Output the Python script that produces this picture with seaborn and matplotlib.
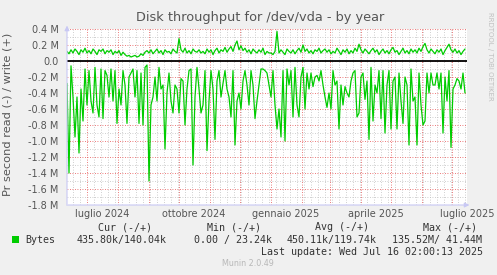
import pandas as pd
import numpy as np
import matplotlib
matplotlib.use('Agg')
import matplotlib.pyplot as plt
import matplotlib.dates as mdates
import matplotlib.ticker as mticker
from matplotlib.patches import Rectangle
import seaborn as sns

# Son güncelleme ve grafik aralığı (400 gün)
last_update = pd.Timestamp('2025-07-16 02:00:13')
range_start = last_update - pd.Timedelta(days=400)

# Okuma (-) değerleri, milyon byte/s, 2 günde bir
read_m = [
    -0.28, -1.40, -0.06, -0.45, -0.95, -0.45, -1.15, -0.35, -0.75, -0.10,
    -0.55, -0.12, -0.50, -0.65, -0.08, -0.55, -0.70, -0.10, -0.72, -0.12,
    -0.18, -0.45, -0.10, -0.50, -0.12, -0.78, -0.35, -0.55, -0.12, -0.30,
    -0.78, -0.20, -0.15, -0.10,
    -0.45, -0.12, -0.78, -0.15, -0.80, -0.08, -0.05, -1.50, -0.55, -0.45,
    -0.20, -0.50, -0.08, -0.35, -0.30, -1.10, -0.40, -0.15, -0.50, -0.65,
    -0.30, -0.35, -0.65, -0.22, -0.25, -0.80, -0.35, -0.12, -0.10, -1.30,
    -0.45, -0.08, -0.35, -0.65,
    -0.55, -0.12, -1.12, -0.50, -0.12, -0.35, -0.98, -0.25, -0.12, -0.45,
    -0.28, -0.12, -0.35, -0.45, -0.70, -0.12, -1.05, -0.50, -0.40, -0.60,
    -0.25, -0.12, -0.30, -0.55, -0.12, -0.30, -0.72, -0.50, -0.30, -0.10,
    -0.10, -0.12, -0.15, -0.30,
    -0.45, -0.12, -0.55, -0.85, -0.60, -0.95, -0.12, -1.00, -0.10, -0.30,
    -0.12, -0.70, -0.08, -0.55, -0.70, -0.20, -0.08, -0.60, -0.15, -0.35,
    -0.15, -0.32, -0.20, -0.18, -0.25, -0.12, -0.30, -0.45, -0.58, -0.40,
    -0.60, -0.12, -0.30, -0.25,
    -0.85, -0.30, -0.55, -0.32, -0.40, -0.45, -0.25, -0.15, -0.12, -0.70,
    -0.65, -0.20, -0.15, -0.48, -0.25, -0.98, -0.08, -0.75, -0.30, -0.40,
    -0.12, -0.72, -0.12, -0.90, -0.30, -0.12, -0.85, -0.25, -0.20, -0.85,
    -0.15, -0.50, -0.78, -0.20,
    -0.30, -1.05, -0.10, -0.50, -0.45, -1.05, -0.15, -0.55, -0.80, -0.75,
    -0.15, -0.40, -0.15, -0.30, -0.30, -0.15, -0.35, -0.15, -0.90, -0.20,
    -0.50, -0.12, -1.08, -0.35, -0.30, -0.22, -0.25, -0.35, -0.15, -0.40,
]

# Yazma (+) değerleri, milyon byte/s
write_m = [
    0.12, 0.09, 0.14, 0.10, 0.15, 0.12, 0.08, 0.14, 0.11, 0.16,
    0.10, 0.13, 0.09, 0.15, 0.12, 0.08, 0.14, 0.12, 0.15, 0.09,
    0.13, 0.11, 0.14, 0.08, 0.12, 0.10, 0.13, 0.07, 0.11, 0.08,
    0.06, 0.07, 0.05, 0.06,
    0.07, 0.05, 0.06, 0.09, 0.07, 0.11, 0.13, 0.10, 0.14, 0.09,
    0.12, 0.15, 0.10, 0.13, 0.08, 0.14, 0.11, 0.12, 0.09, 0.15,
    0.12, 0.10, 0.28, 0.14, 0.11, 0.16, 0.10, 0.13, 0.09, 0.15,
    0.12, 0.11, 0.14, 0.10,
    0.12, 0.09, 0.15, 0.11, 0.14, 0.08, 0.13, 0.16, 0.10, 0.14,
    0.12, 0.17, 0.11, 0.15, 0.18, 0.12, 0.20, 0.25, 0.14, 0.19,
    0.13, 0.16, 0.11, 0.14, 0.09, 0.15, 0.12, 0.10, 0.14, 0.11,
    0.16, 0.08, 0.12, 0.10,
    0.10, 0.08, 0.12, 0.37, 0.10, 0.14, 0.11, 0.08, 0.15, 0.12,
    0.10, 0.14, 0.09, 0.13, 0.16, 0.11, 0.20, 0.12, 0.15, 0.10,
    0.13, 0.09, 0.14, 0.12, 0.16, 0.10, 0.13, 0.15, 0.11, 0.14,
    0.09, 0.12, 0.10, 0.16,
    0.12, 0.08, 0.14, 0.11, 0.15, 0.09, 0.13, 0.10, 0.16, 0.12,
    0.21, 0.14, 0.10, 0.15, 0.12, 0.09, 0.13, 0.16, 0.11, 0.14,
    0.08, 0.12, 0.15, 0.10, 0.13, 0.09, 0.14, 0.17, 0.11, 0.13,
    0.08, 0.12, 0.16, 0.10,
    0.13, 0.09, 0.15, 0.11, 0.14, 0.10, 0.16, 0.12, 0.18, 0.22,
    0.14, 0.10, 0.15, 0.12, 0.09, 0.14, 0.11, 0.15, 0.08, 0.13,
    0.17, 0.21, 0.14, 0.11, 0.15, 0.10, 0.13, 0.08, 0.12, 0.15,
]

# Eksen etiketleri
y_ticks = [0.4, 0.2, 0.0, -0.2, -0.4, -0.6, -0.8, -1.0, -1.2, -1.4, -1.6, -1.8]
x_labels = ['luglio 2024', 'ottobre 2024', 'gennaio 2025', 'aprile 2025', 'luglio 2025']
x_label_dates = ['2024-07-16', '2024-10-16', '2025-01-16', '2025-04-16', '2025-07-16']

# Lejant değerleri
legend_headers = ['Cur (-/+)', 'Min (-/+)', 'Avg (-/+)', 'Max (-/+)']
legend_values = ['435.80k/140.04k', '0.00 / 23.24k', '450.11k/119.74k', '135.52M/ 41.44M']

dates = range_start + pd.to_timedelta(np.arange(len(read_m)) * 2, unit='D')
df = pd.DataFrame({'date': dates, 'read': read_m, 'write': write_m})

sns.set_style('white')
plt.rcParams['font.family'] = ['DejaVu Sans']

green = '#00cc00'
text_col = '#555555'
mgrid = (0.9, 0.3, 0.3, 0.7)
grid = (0.75, 0.75, 0.75, 0.8)
axis_col = '#c8c8f4'

fig = plt.figure(figsize=(4.97, 2.75), dpi=100, facecolor='#f0f0f0')
ax = fig.add_axes([67 / 497, 70 / 275, 400 / 497, 176 / 275])
ax.set_facecolor('white')

sns.lineplot(data=df, x='date', y='write', ax=ax, color=green, lw=0.9)
sns.lineplot(data=df, x='date', y='read', ax=ax, color=green, lw=0.9)
ax.axhline(0, color='black', lw=1.3, zorder=3)

ax.set_xlim(range_start, last_update)
ax.set_ylim(-1.8, 0.4)

# Izgara
ax.xaxis.set_major_locator(mdates.MonthLocator(bymonthday=1))
ax.xaxis.set_minor_locator(mdates.WeekdayLocator(byweekday=mdates.MO))
ax.xaxis.set_major_formatter(mticker.NullFormatter())
ax.set_yticks(y_ticks)
ax.yaxis.set_minor_locator(mticker.MultipleLocator(0.1))
ax.set_yticklabels(['0.0' if v == 0 else f'{v:.1f} M' for v in y_ticks])
ax.grid(which='major', color=mgrid, ls=(0, (1, 2)), lw=0.6)
ax.grid(which='minor', color=grid, ls=(0, (1, 2)), lw=0.6)
ax.set_axisbelow(True)

ax.tick_params(axis='y', which='both', length=0, pad=6, labelsize=7, labelcolor=text_col)
ax.tick_params(axis='x', which='major', length=4, color=(1, 0.3, 0.3), direction='inout', width=0.6)
ax.tick_params(axis='x', which='minor', length=3, color='#aaaaaa', direction='inout', width=0.6)
for s in ax.spines.values():
    s.set_visible(False)

# Eksen okları
ax.annotate('', xy=(1.013, 0), xytext=(-0.008, 0), xycoords='axes fraction',
            arrowprops=dict(arrowstyle='-|>', color=axis_col, lw=0.8, mutation_scale=7))
ax.annotate('', xy=(0, 1.035), xytext=(0, -0.01), xycoords='axes fraction',
            arrowprops=dict(arrowstyle='-|>', color=axis_col, lw=0.8, mutation_scale=7))

for lbl, d in zip(x_labels, x_label_dates):
    ax.text(pd.Timestamp(d), -0.05, lbl, transform=ax.get_xaxis_transform(),
            ha='center', va='center', fontsize=7, color=text_col)

ax.set_xlabel('')
ax.set_ylabel('')

fig.text(260 / 497, 1 - 18 / 275, 'Disk throughput for /dev/vda - by year',
         ha='center', va='center', fontsize=9.3, color=text_col)
fig.text(8 / 497, 1 - 114 / 275, 'Pr second read (-) / write (+)', rotation=90,
         ha='center', va='center', fontsize=8.2, color=text_col)
fig.text(490 / 497, 1 - 56 / 275, 'RRDTOOL / TOBI OETIKER', rotation=270,
         ha='center', va='center', fontsize=5, color='#c0c0c0')

# Lejant
mono = 'DejaVu Sans Mono'
header_x = [98, 207, 315, 423]
value_x = [77, 194, 287, 392]
for h, hx in zip(legend_headers, header_x):
    fig.text(hx / 497, 1 - 227 / 275, h, ha='left', va='center', fontsize=7.2,
             family=mono, color='#333333')
for v, vx in zip(legend_values, value_x):
    fig.text(vx / 497, 1 - 240 / 275, v, ha='left', va='center', fontsize=7.2,
             family=mono, color='#333333')
fig.patches.append(Rectangle((12 / 497, 1 - 243 / 275), 7 / 497, 7 / 275,
                             transform=fig.transFigure, facecolor=green, edgecolor='none'))
fig.text(25 / 497, 1 - 240 / 275, 'Bytes', ha='left', va='center', fontsize=7.2,
         family=mono, color='#333333')
fig.text(261 / 497, 1 - 252 / 275, 'Last update: Wed Jul 16 02:00:13 2025', ha='left',
         va='center', fontsize=7.2, family=mono, color='#333333')
fig.text(248 / 497, 1 - 264 / 275, 'Munin 2.0.49', ha='center', va='center',
         fontsize=5.8, color='#b8b8b8')

plt.savefig('out.png', dpi=100, facecolor=fig.get_facecolor())
plt.close()
